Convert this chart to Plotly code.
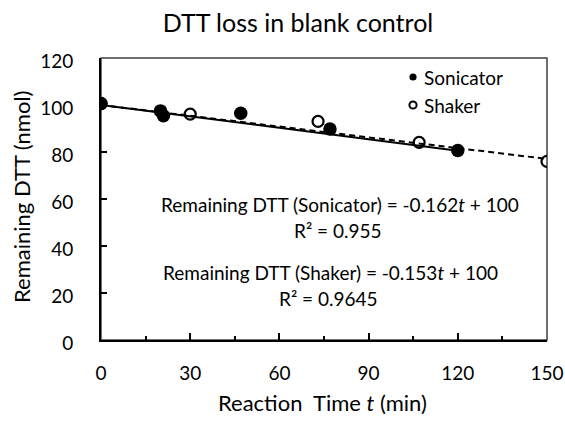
import plotly.graph_objects as go

# ---- data ----
sonic_t = [0, 20, 21, 47, 77, 120]
sonic_v = [100.6, 97.5, 95.4, 96.5, 89.8, 80.6]
shaker_t = [0, 30, 73, 107, 150]
shaker_v = [100.6, 96.1, 93.0, 84.1, 76.0]

# linear fits shown on the chart (slope, intercept, end time)
sonic_fit = (-0.162, 100, 120)
shaker_fit = (-0.153, 100, 150)

x_ticks = [0, 30, 60, 90, 120, 150]
y_ticks = [0, 20, 40, 60, 80, 100, 120]

title_text = "DTT loss in blank control"
x_title = "Reaction  Time <i>t</i> (min)"
y_title = "Remaining DTT (nmol)"
eq_lines = [
    "Remaining DTT (Sonicator) = -0.162<i>t</i> + 100",
    "R² = 0.955",
    "Remaining DTT (Shaker) = -0.153<i>t</i> + 100",
    "R² = 0.9645",
]
legend_names = ["Sonicator", "Shaker"]

FONT = "Lato"
W, H = 565, 423
L, R, T, B = 101, 18, 58, 83
pw, ph = W - L - R, H - T - B


def px_to_paper(px, py):
    return (px - L) / pw, (H - B - py) / ph


fig = go.Figure()

# trend lines
for (m, c, tend), dash, width in [(shaker_fit, "6px,4px", 2), (sonic_fit, "solid", 2)]:
    fig.add_trace(go.Scatter(
        x=[0, tend], y=[c, m * tend + c], mode="lines",
        line=dict(color="black", width=width, dash=dash),
        showlegend=False, hoverinfo="skip"))

# data points
fig.add_trace(go.Scatter(
    x=shaker_t, y=shaker_v, mode="markers", showlegend=False,
    marker=dict(symbol="circle-open", size=11, color="black", line=dict(width=2.2, color="black"))))
fig.add_trace(go.Scatter(
    x=sonic_t, y=sonic_v, mode="markers", showlegend=False,
    marker=dict(symbol="circle", size=13.5, color="black", line=dict(width=0))))

annotations = []
shapes = []

# equation text
eq_pos = [(340, 205), (338, 231), (330, 272), (328, 298)]
for txt, (px, py) in zip(eq_lines, eq_pos):
    xp, yp = px_to_paper(px, py)
    annotations.append(dict(text=txt, x=xp, y=yp, xref="paper", yref="paper",
                            xanchor="center", yanchor="middle", showarrow=False,
                            font=dict(family=FONT, size=19, color="black")))

# axis titles
xp, yp = px_to_paper(322, 402)
annotations.append(dict(text=x_title, x=xp, y=yp, xref="paper", yref="paper",
                        xanchor="center", yanchor="middle", showarrow=False,
                        font=dict(family=FONT, size=22, color="black")))
xp, yp = px_to_paper(21, 197)
annotations.append(dict(text=y_title, x=xp, y=yp, xref="paper", yref="paper", textangle=-90,
                        xanchor="center", yanchor="middle", showarrow=False,
                        font=dict(family=FONT, size=22, color="black")))

# manual legend
leg_pos = [(413, 77, "filled"), (413, 105, "open")]
for name, (px, py, kind) in zip(legend_names, leg_pos):
    xp, yp = px_to_paper(px + 9, py)
    annotations.append(dict(text=name, x=xp, y=yp, xref="paper", yref="paper",
                            xanchor="left", yanchor="middle", showarrow=False,
                            font=dict(family=FONT, size=19, color="black")))
    r = 3.6
    x0, y0 = px_to_paper(px - r, py + r)
    x1, y1 = px_to_paper(px + r, py - r)
    shapes.append(dict(type="circle", xref="paper", yref="paper",
                       x0=x0, y0=y0, x1=x1, y1=y1,
                       fillcolor="black" if kind == "filled" else "white",
                       line=dict(color="black", width=0 if kind == "filled" else 2)))

# plot border (top / right)
shapes.append(dict(type="rect", xref="paper", yref="paper", x0=0, y0=0, x1=1, y1=1,
                   line=dict(color="#404040", width=1.5), layer="below"))

fig.update_layout(
    width=W, height=H,
    margin=dict(l=L, r=R, t=T, b=B, autoexpand=False),
    paper_bgcolor="white", plot_bgcolor="white",
    font=dict(family=FONT, size=19, color="black"),
    title=dict(text=title_text, x=298 / W, xanchor="center", y=1 - 23 / H, yanchor="middle",
               automargin=False,
               font=dict(family=FONT, size=25, color="black")),
    showlegend=False,
    annotations=annotations,
    shapes=shapes,
)

fig.update_xaxes(
    range=[0, 150], tickvals=x_ticks, ticktext=[str(v) for v in x_ticks],
    showgrid=False, zeroline=False, automargin=False,
    showline=True, linecolor="black", linewidth=2,
    ticks="inside", ticklen=7, tickwidth=2, tickcolor="black",
    minor=dict(tickvals=[15, 45, 75, 105, 135], ticks="inside", ticklen=4, tickwidth=2, tickcolor="black"),
    ticklabelstandoff=15,
    tickfont=dict(family=FONT, size=19, color="black"),
)
fig.update_yaxes(
    range=[0, 120], tickvals=y_ticks, ticktext=[str(v) for v in y_ticks],
    showgrid=False, zeroline=False, automargin=False,
    showline=True, linecolor="black", linewidth=2,
    ticks="inside", ticklen=6, tickwidth=2, tickcolor="black",
    ticklabelstandoff=22, ticklabelshift=3,
    tickfont=dict(family=FONT, size=19, color="black"),
)

fig.write_html("out.html")
